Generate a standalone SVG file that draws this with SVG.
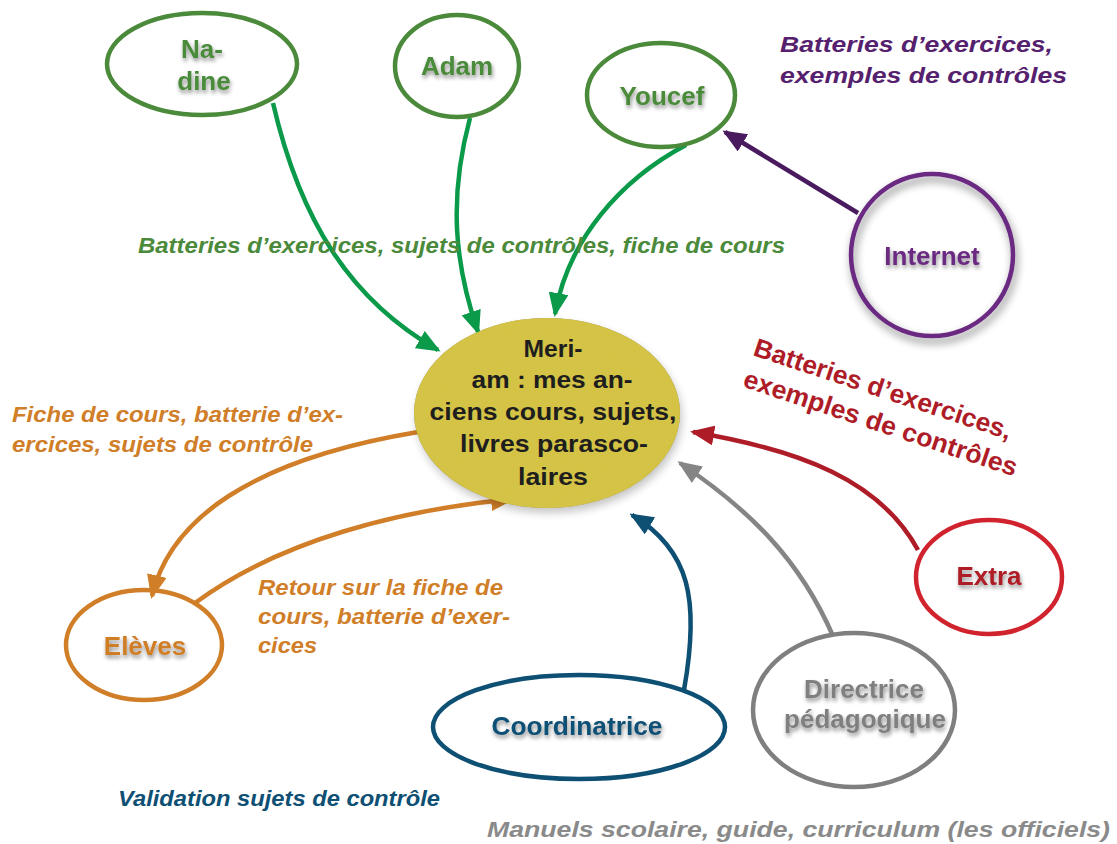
<svg xmlns="http://www.w3.org/2000/svg" width="1117" height="844" viewBox="0 0 1117 844">
<style>
.node{fill:none;stroke-width:4.5}
.nt{font-family:"Liberation Sans",Arial,sans-serif;font-weight:bold;font-size:26px;text-anchor:middle;filter:url(#tsh)}
.lbl{font-family:"Liberation Sans",Arial,sans-serif;font-weight:bold;font-style:italic;font-size:22px}
.mt{font-family:"Liberation Sans",Arial,sans-serif;font-weight:bold;font-size:24.5px;fill:#1e1e1e;text-anchor:middle}
.c{fill:none;stroke-width:4.5}
</style>
<defs>
<filter id="tsh" x="-20%" y="-40%" width="140%" height="180%">
<feGaussianBlur in="SourceAlpha" stdDeviation="2"/>
<feOffset dx="1" dy="3" result="b"/>
<feComponentTransfer><feFuncA type="linear" slope="0.45"/></feComponentTransfer>
<feMerge><feMergeNode/><feMergeNode in="SourceGraphic"/></feMerge>
</filter>
<filter id="esh" x="-20%" y="-20%" width="140%" height="150%">
<feGaussianBlur in="SourceAlpha" stdDeviation="4"/>
<feOffset dx="2" dy="5"/>
<feComponentTransfer><feFuncA type="linear" slope="0.5"/></feComponentTransfer>
<feMerge><feMergeNode/><feMergeNode in="SourceGraphic"/></feMerge>
</filter>
<filter id="tex" x="0" y="0" width="100%" height="100%">
<feTurbulence type="fractalNoise" baseFrequency="0.85" numOctaves="2" seed="3" result="n"/>
<feColorMatrix in="n" type="matrix" values="0 0 0 0 0.6  0 0 0 0 0.55  0 0 0 0 0.1  0 0 0 -0.9 0.75" result="nc"/>
<feComposite in="nc" in2="SourceGraphic" operator="in" result="t"/>
<feMerge><feMergeNode in="SourceGraphic"/><feMergeNode in="t"/></feMerge>
</filter>
<marker id="ag" viewBox="0 0 24 20" refX="21" refY="10" markerWidth="24" markerHeight="20" markerUnits="userSpaceOnUse" orient="auto"><path d="M0,0 L24,10 L0,20 z" fill="#0b9a4a"/></marker>
<marker id="ap" viewBox="0 0 24 20" refX="21" refY="10" markerWidth="24" markerHeight="20" markerUnits="userSpaceOnUse" orient="auto"><path d="M0,0 L24,10 L0,20 z" fill="#4a1a5e"/></marker>
<marker id="ar" viewBox="0 0 24 20" refX="21" refY="10" markerWidth="24" markerHeight="20" markerUnits="userSpaceOnUse" orient="auto"><path d="M0,0 L24,10 L0,20 z" fill="#ae1c28"/></marker>
<marker id="agr" viewBox="0 0 24 20" refX="21" refY="10" markerWidth="24" markerHeight="20" markerUnits="userSpaceOnUse" orient="auto"><path d="M0,0 L24,10 L0,20 z" fill="#858585"/></marker>
<marker id="ab" viewBox="0 0 24 20" refX="21" refY="10" markerWidth="24" markerHeight="20" markerUnits="userSpaceOnUse" orient="auto"><path d="M0,0 L24,10 L0,20 z" fill="#0e4f74"/></marker>
<marker id="ao" viewBox="0 0 24 20" refX="21" refY="10" markerWidth="24" markerHeight="20" markerUnits="userSpaceOnUse" orient="auto"><path d="M0,0 L24,10 L0,20 z" fill="#d07e28"/></marker>
</defs>
<rect width="1117" height="844" fill="#ffffff"/>

<g id="connectors">
<path class="c" stroke="#0b9a4a" d="M273,103 C300,220 350,300 438,350" marker-end="url(#ag)"/>
<path class="c" stroke="#0b9a4a" d="M470,118 C448,200 455,265 478,332" marker-end="url(#ag)"/>
<path class="c" stroke="#0b9a4a" d="M686,145 C620,180 568,240 555,314" marker-end="url(#ag)"/>
<path class="c" stroke="#4a1a5e" d="M858,213 L725,132" marker-end="url(#ap)"/>
<path class="c" stroke="#ae1c28" d="M918,550 C880,480 800,450 693,432" marker-end="url(#ar)"/>
<path class="c" stroke="#858585" d="M833,636 C800,560 750,510 680,463" marker-end="url(#agr)"/>
<path class="c" stroke="#0e4f74" d="M684,690 C700,600 690,550 632,515" marker-end="url(#ab)"/>
<path class="c" stroke="#d07e28" d="M418,432 C250,460 170,520 152,596" marker-end="url(#ao)"/>
<path class="c" stroke="#d07e28" d="M195,603 C280,540 400,510 512,499" marker-end="url(#ao)"/>
</g>

<g id="meriam">
<ellipse cx="547" cy="413" rx="133" ry="95" fill="#000" opacity="0.45" filter="url(#esh)"/>
<ellipse cx="547" cy="413" rx="133" ry="95" fill="#d8c33c" filter="url(#tex)"/>
<text class="mt" x="553" y="357" textLength="59" lengthAdjust="spacingAndGlyphs">Meri-</text>
<text class="mt" x="552" y="388" textLength="161" lengthAdjust="spacingAndGlyphs">am : mes an-</text>
<text class="mt" x="553" y="420" textLength="247" lengthAdjust="spacingAndGlyphs">ciens cours, sujets,</text>
<text class="mt" x="554" y="452" textLength="188" lengthAdjust="spacingAndGlyphs">livres parasco-</text>
<text class="mt" x="553" y="485" textLength="70" lengthAdjust="spacingAndGlyphs">laires</text>
</g>

<g id="nadine">
<ellipse class="node" cx="202" cy="64" rx="95" ry="51" stroke="#4a8a3a"/>
<text class="nt" x="202" y="58" fill="#4a8a3a">Na-</text>
<text class="nt" x="204" y="90" fill="#4a8a3a">dine</text>
</g>
<g id="adam">
<ellipse class="node" cx="457" cy="66" rx="62" ry="51" stroke="#4a8a3a"/>
<text class="nt" x="457" y="75" fill="#4a8a3a">Adam</text>
</g>
<g id="youcef">
<ellipse class="node" cx="661" cy="95" rx="74" ry="52" stroke="#4a8a3a"/>
<text class="nt" x="662" y="105" fill="#4a8a3a">Youcef</text>
</g>
<g id="internet">
<circle class="node" cx="932" cy="255" r="81" stroke="#6b2a82" filter="url(#esh)"/>
<text class="nt" x="932" y="265" fill="#6b2a82">Internet</text>
</g>
<g id="eleves">
<ellipse class="node" cx="144" cy="645" rx="78" ry="55" stroke="#d07e28"/>
<text class="nt" x="145" y="655" fill="#d07e28">Elèves</text>
</g>
<g id="coordinatrice">
<ellipse class="node" cx="579" cy="727" rx="146" ry="52" stroke="#0e4f74"/>
<text class="nt" x="577" y="735" fill="#0e4f74" textLength="171" lengthAdjust="spacingAndGlyphs">Coordinatrice</text>
</g>
<g id="directrice">
<ellipse class="node" cx="854" cy="710" rx="101" ry="77" stroke="#7f7f7f"/>
<text class="nt" x="864" y="698" fill="#7f7f7f">Directrice</text>
<text class="nt" x="865" y="728" fill="#7f7f7f">pédagogique</text>
</g>
<g id="extra">
<ellipse class="node" cx="989" cy="577" rx="73" ry="57" stroke="#d0232d"/>
<text class="nt" x="989" y="585" fill="#ae1c28">Extra</text>
</g>

<g id="labels">
<text class="lbl" fill="#55216e" font-size="26" x="780" y="52" textLength="273" lengthAdjust="spacingAndGlyphs">Batteries d’exercices,</text>
<text class="lbl" fill="#55216e" font-size="26" x="780" y="83" textLength="287" lengthAdjust="spacingAndGlyphs">exemples de contrôles</text>
<text class="lbl" fill="#4a8a3a" x="138" y="253" font-size="22" textLength="647" lengthAdjust="spacingAndGlyphs">Batteries d’exercices, sujets de contrôles, fiche de cours</text>
<g transform="translate(752,355) rotate(18.3)">
<text font-family="Liberation Sans,Arial,sans-serif" font-weight="bold" font-size="26" fill="#ae1c28" x="0" y="0" textLength="270" lengthAdjust="spacingAndGlyphs">Batteries d’exercices,</text>
<text font-family="Liberation Sans,Arial,sans-serif" font-weight="bold" font-size="26" fill="#ae1c28" x="0" y="33" textLength="287" lengthAdjust="spacingAndGlyphs">exemples de contrôles</text>
</g>
<text class="lbl" fill="#d07e28" x="12" y="422" textLength="331" lengthAdjust="spacingAndGlyphs">Fiche de cours, batterie d’ex-</text>
<text class="lbl" fill="#d07e28" x="12" y="452" textLength="301" lengthAdjust="spacingAndGlyphs">ercices, sujets de contrôle</text>
<text class="lbl" fill="#d07e28" x="258" y="595" textLength="245" lengthAdjust="spacingAndGlyphs">Retour sur la fiche de</text>
<text class="lbl" fill="#d07e28" x="258" y="624" textLength="252" lengthAdjust="spacingAndGlyphs">cours, batterie d’exer-</text>
<text class="lbl" fill="#d07e28" x="258" y="653" textLength="59" lengthAdjust="spacingAndGlyphs">cices</text>
<text class="lbl" fill="#0e4f74" x="118" y="806" font-size="21" textLength="322" lengthAdjust="spacingAndGlyphs">Validation sujets de contrôle</text>
<text class="lbl" fill="#8a8a8a" x="487" y="837" font-size="25" textLength="623" lengthAdjust="spacingAndGlyphs">Manuels scolaire, guide, curriculum (les officiels)</text>
</g>
</svg>
